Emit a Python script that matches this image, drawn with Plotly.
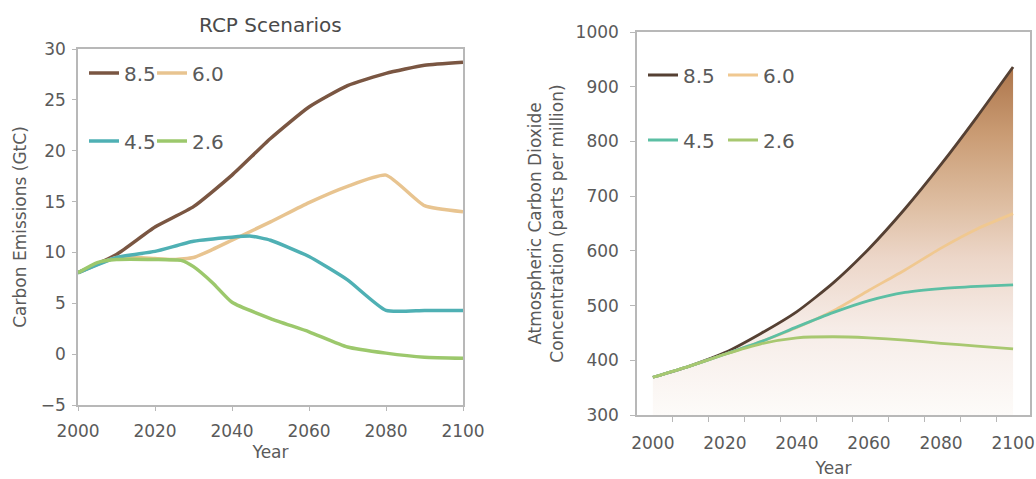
import plotly.graph_objects as go

# ---------------- data ----------------
scenarios = ["8.5", "6.0", "4.5", "2.6"]

em_years_85 = [2000, 2010, 2020, 2030, 2040, 2050, 2060, 2070, 2080, 2090, 2100]
em_85 = [8.0, 9.8, 12.5, 14.5, 17.6, 21.2, 24.3, 26.4, 27.6, 28.4, 28.7]

em_years_60 = [2000, 2010, 2020, 2025, 2030, 2035, 2040, 2050, 2060, 2070, 2080, 2090, 2100]
em_60 = [8.0, 9.5, 9.4, 9.3, 9.5, 10.3, 11.2, 13.0, 14.9, 16.5, 17.6, 14.6, 14.0]

em_years_45 = [2000, 2010, 2020, 2030, 2040, 2045, 2050, 2060, 2070, 2080, 2090, 2100]
em_45 = [8.0, 9.5, 10.1, 11.1, 11.5, 11.6, 11.2, 9.6, 7.3, 4.3, 4.3, 4.3]

em_years_26 = [2000, 2005, 2010, 2020, 2027, 2030, 2035, 2040, 2050, 2060, 2070, 2080, 2090, 2100]
em_26 = [8.0, 9.0, 9.3, 9.3, 9.2, 8.6, 7.0, 5.1, 3.5, 2.2, 0.7, 0.1, -0.3, -0.4]

conc_years = [2000, 2010, 2020, 2030, 2040, 2050, 2060, 2070, 2080, 2090, 2100]
conc_85 = [369, 389, 414, 449, 489, 541, 604, 677, 758, 845, 936]
conc_60 = [369, 389, 411, 434, 460, 490, 528, 565, 605, 640, 668]
conc_45 = [369, 389, 411, 434, 461, 487, 509, 524, 531, 535, 538]
conc_26 = [369, 389, 411, 430, 441, 443, 441, 437, 431, 426, 421]

x_ticks = [2000, 2020, 2040, 2060, 2080, 2100]
left_y_ticks = [-5, 0, 5, 10, 15, 20, 25, 30]
right_y_ticks = [300, 400, 500, 600, 700, 800, 900, 1000]

# ---------------- styles ----------------
W, H = 1036, 479
FONT = "DejaVu Sans"
TICK_COLOR = "#5a5a5a"
AXIS_LINE = "#b8b8b8"

left_colors = {"8.5": "#7a5642", "6.0": "#e8c490", "4.5": "#4fb0b4", "2.6": "#9cc86c"}
right_colors = {"8.5": "#554033", "6.0": "#f0c890", "4.5": "#5cbfa4", "2.6": "#a8c870"}


def px_x(p):
    return p / W


def px_y(p):
    return 1 - p / H


fig = go.Figure()

left_series = {
    "8.5": (em_years_85, em_85),
    "6.0": (em_years_60, em_60),
    "4.5": (em_years_45, em_45),
    "2.6": (em_years_26, em_26),
}
# legend box left edge / row centre (px)
left_legend_pos = {"8.5": (84, 73), "6.0": (152, 73), "4.5": (84, 141), "2.6": (152, 141)}
right_legend_pos = {"8.5": (643, 75), "6.0": (723, 75), "4.5": (643, 140), "2.6": (723, 140)}

legend_layout = {}
legend_idx = 1


def legend_name(i):
    return "legend" if i == 1 else f"legend{i}"


def legend_box(pos):
    lx, ly = pos
    return dict(
        x=px_x(lx), y=px_y(ly), xanchor="left", yanchor="middle",
        orientation="h", bgcolor="rgba(0,0,0,0)", borderwidth=0,
        font=dict(family=FONT, size=20, color=TICK_COLOR), itemwidth=30,
    )


# ---------------- left chart ----------------
for name in scenarios:
    xs, ys = left_series[name]
    lg = legend_name(legend_idx)
    fig.add_trace(go.Scatter(
        x=xs, y=ys, mode="lines", name=name,
        line=dict(color=left_colors[name], width=3.5, shape="spline", smoothing=0.5),
        xaxis="x", yaxis="y", legend=lg,
    ))
    legend_layout[lg] = legend_box(left_legend_pos[name])
    legend_idx += 1

# ---------------- right chart ----------------
fig.add_trace(go.Scatter(
    x=conc_years, y=conc_85, mode="lines", fill="tozeroy",
    line=dict(width=0, color="rgba(0,0,0,0)", shape="spline", smoothing=0.6),
    fillgradient=dict(
        type="vertical", start=300, stop=940,
        colorscale=[[0.0, "rgb(253,251,249)"], [0.25, "rgb(246,236,231)"],
                    [0.45, "rgb(236,214,200)"], [0.6, "rgb(222,190,162)"],
                    [0.8, "rgb(202,156,116)"], [1.0, "rgb(172,116,74)"]],
    ),
    showlegend=False, hoverinfo="skip", xaxis="x2", yaxis="y2",
))

right_series = {"8.5": conc_85, "6.0": conc_60, "4.5": conc_45, "2.6": conc_26}
for name in scenarios:
    lg = legend_name(legend_idx)
    fig.add_trace(go.Scatter(
        x=conc_years, y=right_series[name], mode="lines", name=name,
        line=dict(color=right_colors[name], width=2.8, shape="spline", smoothing=0.6),
        xaxis="x2", yaxis="y2", legend=lg,
    ))
    legend_layout[lg] = legend_box(right_legend_pos[name])
    legend_idx += 1

axis_common = dict(
    showgrid=False, zeroline=False, showline=True, linecolor=AXIS_LINE, linewidth=1.5,
    mirror=True, ticks="outside", tickcolor=AXIS_LINE, ticklen=4, automargin=False,
    tickfont=dict(family=FONT, size=17, color=TICK_COLOR),
)
title_font = dict(family=FONT, size=17, color=TICK_COLOR)

fig.update_layout(
    width=W, height=H,
    margin=dict(l=0, r=0, t=0, b=0, autoexpand=False),
    paper_bgcolor="white", plot_bgcolor="white",
    font=dict(family=FONT, color=TICK_COLOR),
    xaxis=dict(
        domain=[px_x(78), px_x(463)], range=[2000, 2100],
        tickvals=x_ticks, anchor="y", ticklabelstandoff=6,
        title=dict(text="Year", font=title_font, standoff=6),
        **axis_common,
    ),
    yaxis=dict(
        domain=[px_y(405), px_y(49)], range=[-5, 30],
        tickvals=left_y_ticks, anchor="x", ticklabelstandoff=3,
        title=dict(text="Carbon Emissions (GtC)", font=title_font, standoff=10),
        **axis_common,
    ),
    xaxis2=dict(
        domain=[px_x(637), px_x(1030)], range=[1995.6, 2104.7],
        tickvals=x_ticks, anchor="y2", ticklabelstandoff=12,
        title=dict(text="Year", font=title_font, standoff=10),
        minor=dict(ticks="outside", tick0=2005.5, dtick=10, ticklen=5, tickcolor=AXIS_LINE),
        **{**axis_common, "ticklen": 0},
    ),
    yaxis2=dict(
        domain=[px_y(415), px_y(32)], range=[300, 1000],
        tickvals=right_y_ticks, anchor="x2", ticklabelstandoff=8,
        title=dict(text="Atmospheric Carbon Dioxide<br>Concentration (parts per million)",
                   font=title_font, standoff=8),
        **{**axis_common, "ticklen": 5},
    ),
    annotations=[dict(
        text="RCP Scenarios", x=px_x(270), y=px_y(25), xref="paper", yref="paper",
        xanchor="center", yanchor="middle", showarrow=False,
        font=dict(family=FONT, size=20, color="#4a4a4a"),
    )],
    **legend_layout,
)

fig.write_html("out.html", config={"displayModeBar": False},
               post_script="document.body.style.margin='0';")
